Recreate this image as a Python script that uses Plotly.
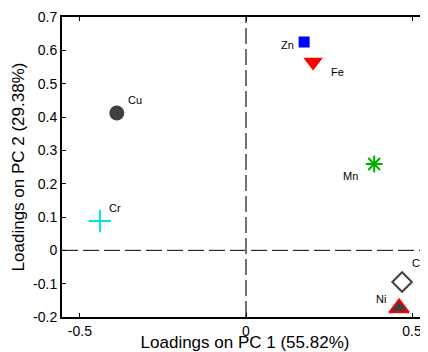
import plotly.graph_objects as go

elements = ["Cu", "Zn", "Fe", "Mn", "Cr", "Co", "Ni"]
pc1 = [-0.389, 0.175, 0.202, 0.386, -0.44, 0.47, 0.461]
pc2 = [0.412, 0.625, 0.565, 0.259, 0.088, -0.095, -0.173]

styles = {
    "Cu": dict(symbol="circle", size=15, color="#404040", line=dict(width=0)),
    "Zn": dict(symbol="square", size=11, color="#0000ff", line=dict(width=0)),
    "Fe": dict(symbol="triangle-down", size=17, color="#ff0000", line=dict(width=0)),
    "Mn": dict(symbol="asterisk-open", size=14, color="#00b000", line=dict(width=2, color="#00b000")),
    "Cr": dict(symbol="cross-thin-open", size=16, color="#00e0e0", line=dict(width=2, color="#00e0e0")),
    "Co": dict(symbol="diamond-open", size=15, color="#404040", line=dict(width=2, color="#404040")),
    "Ni": dict(symbol="triangle-up", size=17, color="#404040", line=dict(width=2, color="#ff0000")),
}
label_shift = {
    "Cu": (18, 13), "Zn": (-17, -3), "Fe": (24, -10), "Mn": (-24, -12),
    "Cr": (15, 13), "Co": (9, 19), "Ni": (-18, 9),
}

fig = go.Figure()
for name, x, y in zip(elements, pc1, pc2):
    fig.add_trace(go.Scatter(x=[x], y=[y], mode="markers", marker=styles[name],
                             showlegend=False, name=name, cliponaxis=False))
    dx, dy = label_shift[name]
    fig.add_annotation(x=x, y=y, text=name, showarrow=False, xshift=dx, yshift=dy,
                       xanchor="left" if name == "Co" else "center", borderpad=0,
                       font=dict(family="Liberation Sans, Arial", size=11, color="#000"))

fig.add_shape(type="line", xref="x", yref="y", x0=0, x1=0, y0=-0.2, y1=0.7,
              line=dict(color="#707070", width=2, dash="16px,5px"), layer="below")
fig.add_shape(type="line", xref="paper", yref="y", x0=0, x1=1, y0=0, y1=0,
              line=dict(color="#000000", width=1, dash="16px,5px"), layer="below")

# page body has an 8px margin; size the figure so it fits the window without scrolling
fig.update_layout(
    width=420, height=344,
    margin=dict(l=54, r=0, t=9, b=35),
    plot_bgcolor="white", paper_bgcolor="white",
    font=dict(family="Liberation Sans, Arial", size=14, color="#000"),
)
fig.update_xaxes(range=[-0.554, 0.548], tickvals=[-0.5, 0, 0.5], ticktext=["-0.5", "0", "0.5"],
                 showgrid=False, zeroline=False, showline=True, linecolor="black", linewidth=2,
                 mirror="ticks", ticks="inside", ticklen=4, tickcolor="black", automargin=False,
                 ticklabeloverflow="allow",
                 title=dict(text="Loadings on PC 1 (55.82%)", font=dict(size=17), standoff=9))
fig.update_yaxes(range=[-0.2, 0.7], tickvals=[-0.2, -0.1, 0, 0.1, 0.2, 0.3, 0.4, 0.5, 0.6, 0.7],
                 ticktext=["-0.2", "-0.1", "0", "0.1", "0.2", "0.3", "0.4", "0.5", "0.6", "0.7"],
                 showgrid=False, zeroline=False, showline=True, linecolor="black", linewidth=2,
                 ticks="inside", ticklen=4, tickcolor="black", automargin=False,
                 title=dict(text="Loadings on PC 2 (29.38%)", font=dict(size=17), standoff=4))

fig.write_html("out.html")
